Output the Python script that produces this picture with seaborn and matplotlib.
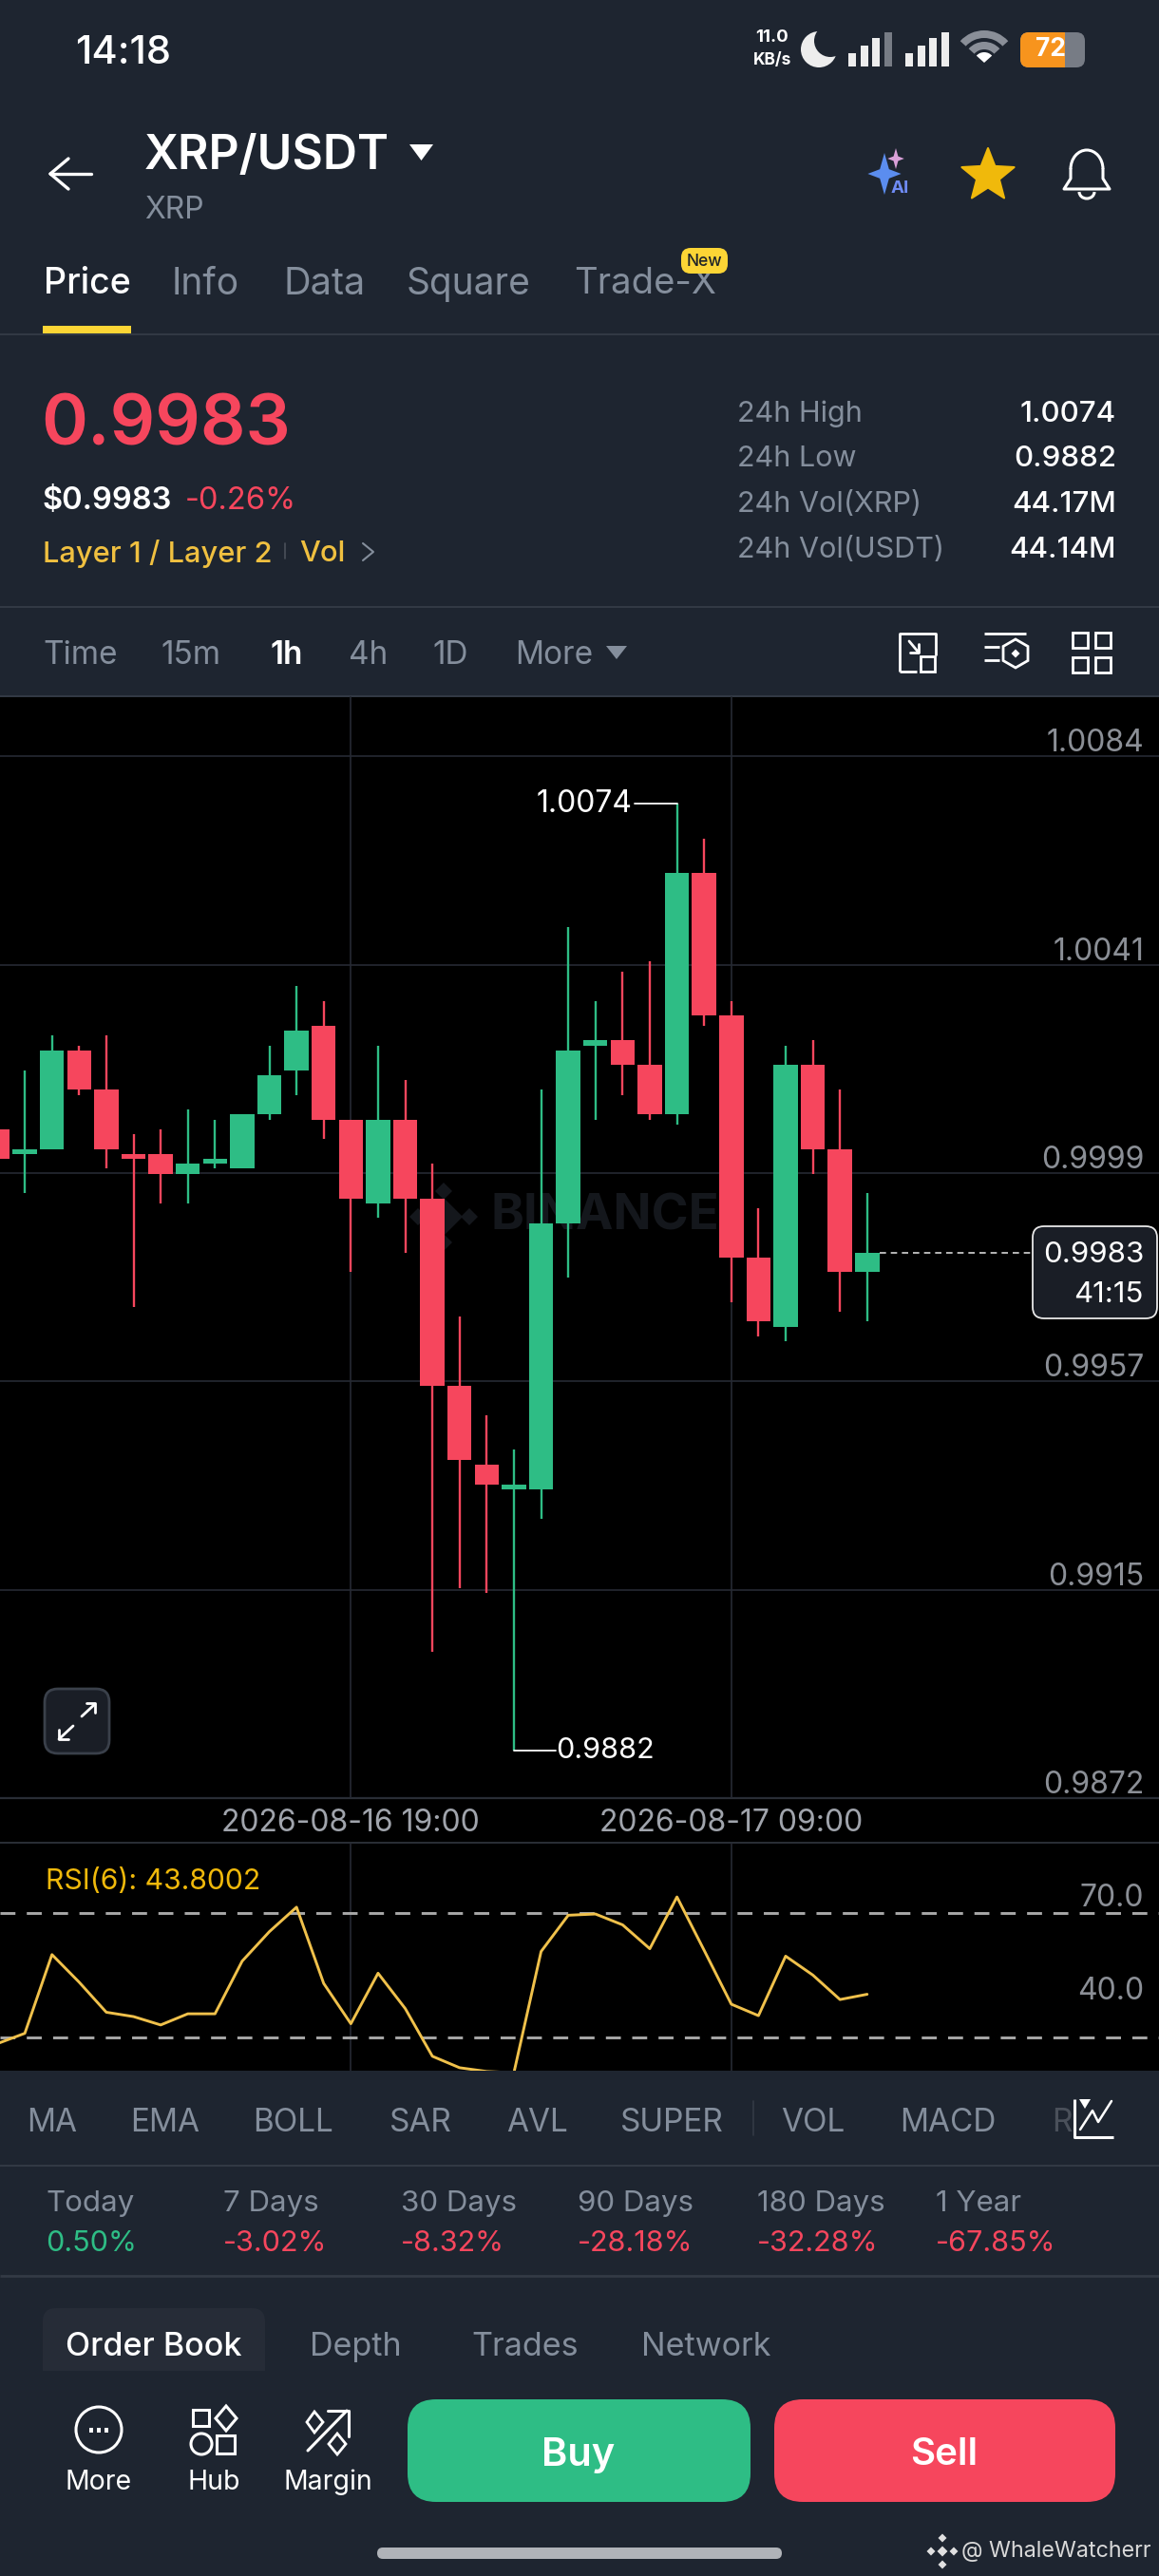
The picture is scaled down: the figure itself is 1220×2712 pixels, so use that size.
import numpy as np
import pandas as pd
import matplotlib
matplotlib.use("Agg")
import matplotlib.pyplot as plt
from matplotlib.patches import Rectangle, FancyBboxPatch, Circle, Wedge, Polygon, RegularPolygon, Arc
from matplotlib.transforms import ScaledTranslation
import seaborn as sns

# ---- data ----
opens = [1.0008,1.0003,1.0004,1.0024,1.0016,1.0003,1.0003,0.9999,1.0001,1.0000,1.0011,1.0020,1.0029,1.0010,0.9993,1.0010,0.9994,0.9956,0.9940,0.9935,0.9935,0.9989,1.0025,1.0026,1.0021,1.0011,1.0060,1.0031,0.9982,0.9968,1.0021,1.0004,0.9979]
closes = [1.0002,1.0004,1.0024,1.0016,1.0004,1.0002,0.9999,1.0001,1.0002,1.0011,1.0019,1.0028,1.0010,0.9994,1.0010,0.9994,0.9956,0.9941,0.9936,0.9936,0.9989,1.0024,1.0026,1.0021,1.0011,1.0060,1.0031,0.9982,0.9969,1.0021,1.0004,0.9979,0.9983]
highs = [1.0008,1.0020,1.0027,1.0025,1.0027,1.0007,1.0008,1.0012,1.0010,1.0011,1.0025,1.0037,1.0034,1.0010,1.0025,1.0018,1.0001,0.9970,0.9950,0.9943,1.0016,1.0049,1.0034,1.0040,1.0042,1.0074,1.0067,1.0034,0.9992,1.0025,1.0026,1.0016,0.9995]
lows = [1.0002,0.9995,1.0004,1.0015,1.0000,0.9972,0.9993,0.9993,1.0000,1.0000,1.0010,1.0015,1.0006,0.9979,0.9990,0.9983,0.9902,0.9915,0.9914,0.9882,0.9929,0.9978,1.0010,1.0015,1.0010,1.0009,1.0029,0.9973,0.9966,0.9965,0.9999,0.9971,0.9969]
rsi = [27.9,31.2,56.6,47.7,38.0,36.6,33.9,37.5,37.5,54.5,64.0,71.9,47.3,34.3,50.6,39.2,23.8,20.1,18.9,18.5,57.6,69.3,69.7,66.2,58.5,75.2,58.0,40.6,36.9,56.1,50.0,42.1,43.8002]
price_ticks = [1.00836,1.00413,0.99991,0.99569,0.99146,0.98724]
price_labels = ["1.0084","1.0041","0.9999","0.9957","0.9915","0.9872"]
date_ticks = [13,27]
date_labels = ["2026-08-16 19:00","2026-08-17 09:00"]
rsi_ticks = [70,40]
rsi_labels = ["70.0","40.0"]
rsi_dashes = [70,30]
last_price = 0.9983
day_high = 1.0074; day_low = 0.9882
stats_labels = ["24h High","24h Low","24h Vol(XRP)","24h Vol(USDT)"]
stats_values = ["1.0074","0.9882","44.17M","44.14M"]
perf_labels = ["Today","7 Days","30 Days","90 Days","180 Days","1 Year"]
perf_values = ["0.50%","-3.02%","-8.32%","-28.18%","-32.28%","-67.85%"]

BG="#1E2530"; GREEN="#2EBD85"; RED="#F6465D"; GRAY="#848E9C"; LINE="#333A45"; GRID="#262A33"; YEL="#F0B90B"

sns.set_theme(style="dark")
plt.rcParams['font.family'] = ['Inter','DejaVu Sans']
W,H=1220,2712
fig=plt.figure(figsize=(W/100,H/100),dpi=100,facecolor=BG)

# full-figure layer in pixel coordinates for the app chrome
bg=fig.add_axes([0,0,1,1],zorder=0); bg.set_xlim(0,W); bg.set_ylim(H,0); bg.axis("off")
def T(x,y,s,size,color="white",ha="left",va="center",weight="normal",**k):
    return bg.text(x,y+0.12*size,s,fontsize=size,color=color,ha=ha,va=va,fontweight=weight,**k)
def sep(y,lw=1.4,c=LINE):
    bg.plot([0,W],[y,y],color=c,lw=lw,solid_capstyle="butt")
def rbox(x0,y0,x1,y1,r,fc,ec="none",lw=0,**k):
    p=FancyBboxPatch((x0+r,y0+r),x1-x0-2*r,y1-y0-2*r,boxstyle=f"round,pad={r},rounding_size={r}",fc=fc,ec=ec,lw=lw,**k)
    bg.add_patch(p); return p
def ln(xs,ys,c="white",lw=2,**k):
    bg.plot(xs,ys,color=c,lw=lw,solid_capstyle=k.pop("cap","round"),**k)

# status bar
T(79,52,"14:18",30,weight="medium")
T(813,38,"11.0",13.5,ha="center",weight="bold"); T(813,62,"KB/s",12.5,ha="center",weight="bold")
bg.add_patch(Circle((862,52),19,fc="#EDEDED",ec="none"))
bg.add_patch(Circle((874,43),17,fc=BG,ec="none"))
for x0 in (893,953):
    for j,(h,c) in enumerate(zip((14,22,30,36),("#EDEDED","#EDEDED","#EDEDED","#EDEDED" if x0==953 else "#777C85"))):
        bg.add_patch(Rectangle((x0+j*12.5,70-h),8,h,fc=c,ec="none"))
bg.add_patch(Wedge((1036,66),34,222,318,width=8,fc="#8A8F98",ec="none"))
bg.add_patch(Wedge((1036,66),22,222,318,width=8,fc="#8A8F98",ec="none"))
bg.add_patch(Wedge((1036,66),11,222,318,fc="white",ec="none"))
rbox(1074,34,1142,71,9,"#777C85")
rbox(1074,34,1121,71,9,"#F7941D")
bg.add_patch(Rectangle((1110,34),11,37,fc="#F7941D",ec="none"))
T(1106,50,"72",19,ha="center",weight="bold")

# header
ln([53,96],[183,183],lw=2.4); ln([53,72],[183,167],lw=2.4); ln([53,72],[183,199],lw=2.4)
T(152,160,"XRP/USDT",36,weight="semibold")
bg.add_patch(Polygon([(431,152),(456,152),(443.5,169)],fc="white",ec="none"))
T(152,219,"XRP",23,GRAY)
def star4(cx,cy,r,c):
    q=r*0.22
    bg.add_patch(Polygon([(cx,cy-r),(cx+q,cy-q),(cx+r*.8,cy),(cx+q,cy+q),(cx,cy+r),(cx-q,cy+q),(cx-r*.8,cy),(cx-q,cy-q)],fc=c,ec="none"))
star4(931,183,22,"#5B8DEF"); star4(943,167,11,"#D9A0D8")
T(947,197,"AI",13.5,"#6F8BF5",ha="center",weight="bold")
_a=np.deg2rad(np.arange(-90,270,36)); _r=np.where(np.arange(10)%2==0,29,12.5)
bg.add_patch(Polygon(np.c_[1040+_r*np.cos(_a),185+_r*np.sin(_a)],fc="#F0B90B",ec="#F0B90B",lw=1.5,joinstyle="round"))
# bell
bg.add_patch(Arc((1144,178),34,40,theta1=180,theta2=360,color="white",lw=2.2))
ln([1127,1127,1120,1168,1161,1161],[178,188,199,199,188,178],lw=2.2)
bg.add_patch(Arc((1144,202),16,14,theta1=0,theta2=180,color="white",lw=2.2))

# tabs
for x,s,c,z in zip((46,181,298,428,604),("Price","Info","Data","Square","Trade-X"),("white",GRAY,GRAY,GRAY,GRAY),(27,28,28.5,28,27.5)):
    T(x,296,s,z,c,weight="medium" if s=="Price" else "normal")
bg.add_patch(Rectangle((45,343),93,8,fc="#FCD535",ec="none"))
rbox(717,261,766,288,10,"#FCD535",zorder=3)
T(741.5,273.5,"New",12.5,"#1E2329",ha="center",weight="medium",zorder=4)
sep(352)

# price block
T(43,443,"0.9983",53.5,RED,weight="semibold")
T(44,525,"$0.9983",23.5,weight="semibold"); T(195,525,"-0.26%",23.5,RED)
T(45,580,"Layer 1 / Layer 2",22.2,"#F0C040",weight="medium"); T(315,580,"Vol",22.2,"#F0C040",weight="medium")
ln([300,300],[572,588],"#4A505A",1.2)
ln([382,393,382],[572,581,590],GRAY,1.5)
for y,a,b in zip((433,480,528,576),stats_labels,stats_values):
    T(776,y,a,22,GRAY); T(1175,y,b,22.5,ha="right",weight="medium")
sep(639)

# timeframe row
for x,s,c,w in zip((45,169,284,367,455,542),("Time","15m","1h","4h","1D","More"),(GRAY,GRAY,"white",GRAY,GRAY,GRAY),("normal","normal","semibold","normal","normal","normal")):
    T(x,687,s,24,c,weight=w)
bg.add_patch(Polygon([(638,680),(660,680),(649,694)],fc=GRAY,ec="none"))
ln([947,947,985,985],[707,667,667,690],lw=2,cap="butt"); ln([947,965],[707,707],lw=2,cap="butt")
bg.add_patch(Rectangle((969,691),15,16,fc="none",ec="white",lw=2))
ln([957,967],[675,687],lw=2); ln([967,967,958],[678,687,687],lw=2)
ln([1036,1080],[667,667],lw=2,cap="butt"); ln([1036,1052],[681,681],lw=2,cap="butt"); ln([1036,1052],[695,695],lw=2,cap="butt")
bg.add_patch(RegularPolygon((1069,688),6,radius=15,fc="none",ec="white",lw=2))
bg.add_patch(RegularPolygon((1069,688),4,radius=4.5,fc="white",ec="none"))
for cx,cy in ((1137,674),(1161,674),(1137,700),(1161,700)):
    bg.add_patch(Rectangle((cx-8,cy-8),16,16,fc="none",ec="white",lw=2))

# black chart panel
bg.add_patch(Rectangle((0,733),W,2180-733,fc="black",ec="none",zorder=1))
bg.plot([0,W],[733,733],color=LINE,lw=1.4,zorder=2)
bg.plot([0,W],[1893,1893],color="#2B2F37",lw=1.6,zorder=2)
bg.plot([0,W],[1940,1940],color="#2B2F37",lw=1.4,zorder=2)

def axpos(y0,y1):
    return [0,1-y1/H,1,(y1-y0)/H]
idx=np.arange(len(opens))
df=pd.DataFrame(dict(i=idx,o=opens,c=closes,h=highs,l=lows,rsi=rsi))
df["top"]=df[["o","c"]].max(axis=1); df["bot"]=df[["o","c"]].min(axis=1); df["up"]=df.c>=df.o
xlim=(0.0874,42.74)
nudge=ScaledTranslation(0,-2/100,fig.dpi_scale_trans)

# ---- candles ----
ax=fig.add_axes(axpos(733,1893),zorder=2,facecolor="none")
wm="#14171C"
ax.text(516,1281,"BINANCE",transform=bg.transData,fontsize=38,fontweight="bold",color=wm,va="center",zorder=0.5)
for cx,cy,r in ((467,1281,20),(440,1281,9),(494,1281,9),(467,1254,9),(467,1308,9)):
    ax.add_patch(Polygon([(cx,cy-r),(cx+r,cy),(cx,cy+r),(cx-r,cy)],closed=True,transform=bg.transData,fc=wm,ec="none",zorder=0.5))
for col,mask in ((GREEN,df.up),(RED,~df.up)):
    s=df[mask]
    ax.vlines(s.i,s.l,s.h,color=col,lw=1.7,zorder=2)
    sns.barplot(x=s.i.values,y=(s.top-s.bot).values,bottom=s.bot.values,color=col,saturation=1,
                width=0.89,native_scale=True,errorbar=None,linewidth=0,ax=ax,zorder=3)
ax.set_xlim(*xlim); ax.set_ylim(0.98724,1.00958)
ax.set_xticks(date_ticks); ax.set_xticklabels(date_labels,fontsize=23,color="#A0A4AC")
ax.yaxis.tick_right()
ax.set_yticks(price_ticks); ax.set_yticklabels(price_labels,fontsize=23,color="#8B8F96",ha="right",va="bottom")
ax.tick_params(axis="y",length=0,pad=-11.5)
ax.tick_params(axis="x",length=0,pad=8)
for l in ax.get_yticklabels(): l.set_transform(l.get_transform()+nudge)
ax.grid(True,color=GRID,lw=1.2,zorder=0); ax.set_axisbelow(True)
ax.set_xlabel(""); ax.set_ylabel("")
sns.despine(ax=ax,left=True,bottom=True,right=True,top=True)
ax.hlines(last_price,32.45,38.1,color="#D5D5D5",lw=1.2,linestyles=(0,(4,3)),zorder=2)
i_hi=highs.index(day_high); i_lo=lows.index(day_low)
ax.plot([i_hi,i_hi-1.55],[day_high,day_high],color="white",lw=1.3,zorder=4)
ax.plot([i_lo,i_lo+1.55],[day_low,day_low],color="white",lw=1.3,zorder=4)
ax.text(i_hi-1.65,day_high,f"{day_high:.4f}",color="white",fontsize=23,ha="right",va="center",zorder=5)
ax.text(i_lo+1.55,day_low,f"{day_low:.4f}",color="white",fontsize=22,ha="left",va="center",zorder=5)

# ---- RSI ----
ax2=fig.add_axes(axpos(1940,2179.5),zorder=2,facecolor="none")
sns.lineplot(data=df,x="i",y="rsi",color="#F0C14B",lw=2.1,ax=ax2,zorder=3,errorbar=None)
for v in rsi_dashes:
    ax2.axhline(v,color="#A8A8A8",lw=2.1,dashes=(5.4,4.1),zorder=2)
ax2.set_xlim(*xlim); ax2.set_ylim(19.3,92.7)
ax2.set_xticks(date_ticks); ax2.set_xticklabels([])
ax2.yaxis.tick_right()
ax2.set_yticks(rsi_ticks); ax2.set_yticklabels(rsi_labels,fontsize=23,color="#8B8F96",ha="right",va="bottom")
ax2.tick_params(axis="y",length=0,pad=-11.5); ax2.tick_params(axis="x",length=0)
ax2.grid(False); ax2.xaxis.grid(True,color=GRID,lw=1.2,zorder=0); ax2.set_axisbelow(True)
ax2.set_xlabel(""); ax2.set_ylabel("")
sns.despine(ax=ax2,left=True,bottom=True,right=True,top=True)
ax2.text(48,1981,f"RSI(6): {rsi[-1]:.4f}",transform=bg.transData,fontsize=21.7,color="#F0B90B",va="center")

# overlays above the charts
ov=fig.add_axes([0,0,1,1],zorder=3,facecolor="none"); ov.set_xlim(0,W); ov.set_ylim(H,0); ov.axis("off")
r=12
ov.add_patch(FancyBboxPatch((1087+r,1291+r),131-2*r,97-2*r,boxstyle=f"round,pad={r},rounding_size={r}",fc="#1A1E26",ec="#E8E8E8",lw=1.3))
ov.text(1204,1321,"0.9983",color="white",fontsize=22.5,ha="right",va="center")
ov.text(1204,1363,"41:15",color="white",fontsize=22.5,ha="right",va="center")
r=14
ov.add_patch(FancyBboxPatch((47+r,1778+r),68-2*r,68-2*r,boxstyle=f"round,pad={r},rounding_size={r}",fc="#1A1E26",ec="#3A404A",lw=2))
ov.plot([86,100],[1807,1794],color="white",lw=2); ov.plot([91,100,100],[1793,1793,1803],color="white",lw=2)
ov.plot([62,77],[1831,1817],color="white",lw=2); ov.plot([62,62,72],[1821,1831,1831],color="white",lw=2)

# lower chrome
for x,s in zip((28,137,266,410,533,653,822,947),("MA","EMA","BOLL","SAR","AVL","SUPER","VOL","MACD")):
    T(x,2232,s,24,GRAY)
T(1107,2232,"R",24,"#4A505A")
ln([793,793],[2212,2248],LINE,1.2)
ln([1131,1131,1172],[2210,2250,2250],lw=2.2,cap="butt")
ln([1137,1150,1156,1170],[2242,2222,2234,2212],lw=1.8)
bg.add_patch(Polygon([(1136,2210),(1148,2210),(1142,2220)],fc="white",ec="none"))
sep(2280)
for x,a,b in zip((48,235,422,608,797,985),perf_labels,perf_values):
    T(x,2317,a,22.5,GRAY); T(x,2359,b,22,RED if b.startswith("-") else GREEN)
sep(2395.5,2)
bg.add_patch(FancyBboxPatch((45+14,2430+14),234-28,60,boxstyle="round,pad=14,rounding_size=14",fc="#262C37",ec="none",zorder=1))
bg.add_patch(Rectangle((40,2496),250,29,fc=BG,ec="none",zorder=1.5))
for x,s,c,w in zip((69,326,496,675),("Order Book","Depth","Trades","Network"),("white",GRAY,GRAY,GRAY),("medium","normal","normal","normal")):
    T(x,2468,s,24.5,c,weight=w,zorder=2)
# bottom icons
bg.add_patch(Circle((104,2558),24,fc="none",ec="white",lw=2.2))
for dx in (-8,0,8): bg.add_patch(Rectangle((104+dx-2,2556),4,5,fc="white",ec="none"))
bg.add_patch(Rectangle((203,2537),17,17,fc="none",ec="white",lw=2.2))
bg.add_patch(Polygon([(238,2533),(249,2546),(238,2559),(227,2546)],fc="none",ec="white",lw=2.2))
bg.add_patch(Circle((212,2573),11,fc="none",ec="white",lw=2.2))
bg.add_patch(Rectangle((228,2564),19,19,fc="none",ec="white",lw=2.2))
ln([324,365],[2580,2538],lw=2.2); ln([345,367,367],[2538,2538,2565],lw=2.2)
bg.add_patch(Polygon([(331,2539),(340,2550),(331,2561),(323,2550)],fc="none",ec="white",lw=2))
bg.add_patch(Polygon([(355,2562),(364,2573),(355,2584),(346,2573)],fc="none",ec="white",lw=2))
for x,s in zip((104,225,345),("More","Hub","Margin")):
    T(x,2611,s,20.5,ha="center")
rbox(429,2526,790,2634,30,GREEN); rbox(815,2526,1174,2634,30,RED)
T(609,2581,"Buy",30,ha="center",weight="semibold"); T(994,2581,"Sell",29,ha="center",weight="semibold")
rbox(397,2682,823,2694,6,"#B0B3B8")
for cx,cy,rr in ((992,2672,4.5),(992,2700,4.5),(980,2686,4.5),(1004,2686,4.5),(992,2686,5.5)):
    bg.add_patch(Polygon([(cx,cy-rr),(cx+rr,cy),(cx,cy+rr),(cx-rr,cy)],fc="#E0E0E0",ec="none"))
T(1012,2684,"@ WhaleWatcherr",16.8,"#D8D8D8")

fig.savefig("out.png",dpi=100,facecolor=BG)
